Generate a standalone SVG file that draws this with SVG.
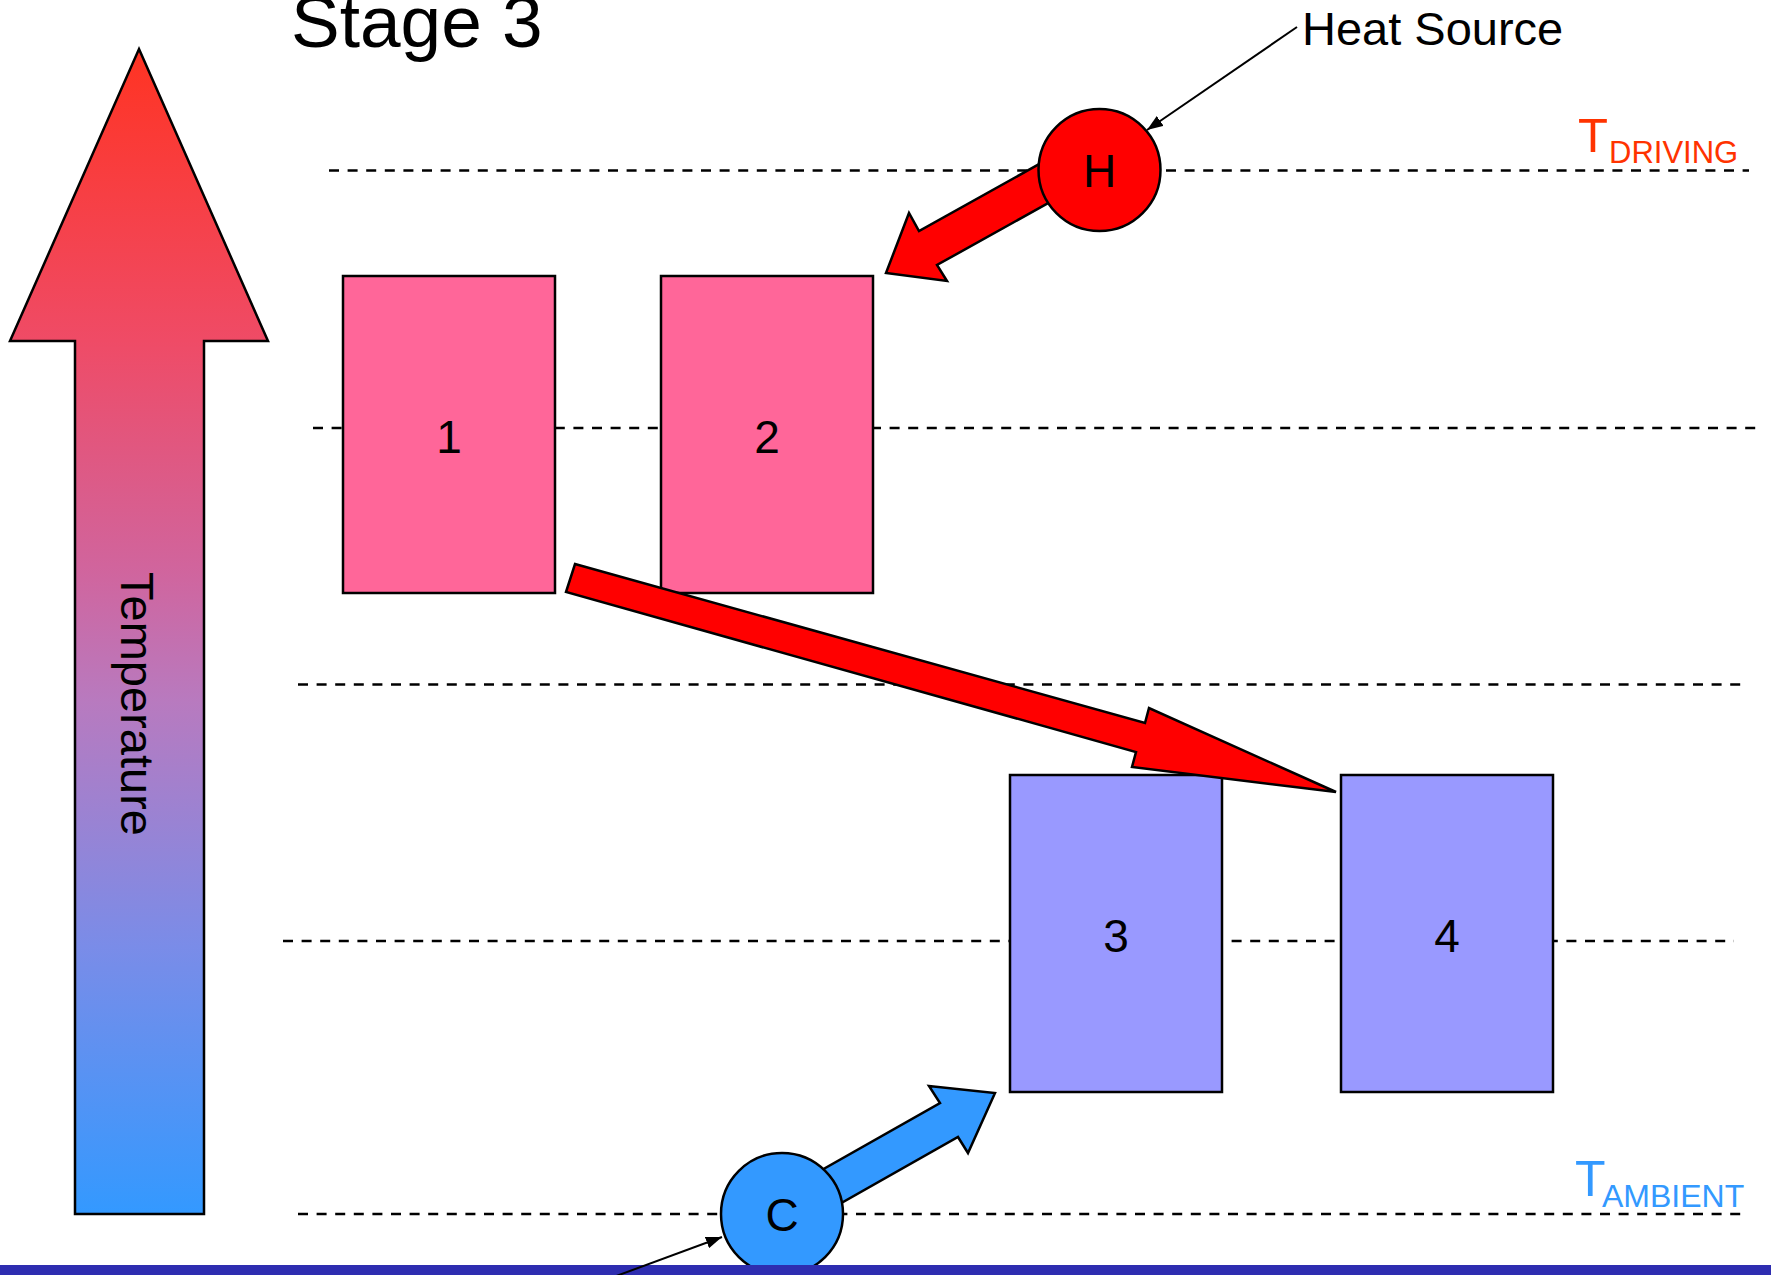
<svg xmlns="http://www.w3.org/2000/svg" width="1771" height="1275" viewBox="0 0 1771 1275">
  <style>
    .lvl { stroke: #000; stroke-width: 2.5; stroke-dasharray: 10 8.6; fill: none; }
    .hot { fill: #FF6699; stroke: #000; stroke-width: 2.5; }
    .cold { fill: #9999FF; stroke: #000; stroke-width: 2.5; }
    .flow { stroke: #000; stroke-width: 2.5; stroke-linejoin: miter; }
    .lead { stroke: #000; stroke-width: 2; fill: none; }
    .txt { font-family: "Liberation Sans", Arial, sans-serif; fill: #000; }
    .num { font-size: 46px; text-anchor: middle; }
  </style>
  <defs>
    <linearGradient id="tempGrad" gradientUnits="userSpaceOnUse" x1="0" y1="49" x2="0" y2="1214">
      <stop offset="0" stop-color="#FF3322"/>
      <stop offset="0.25" stop-color="#EF4B66"/>
      <stop offset="0.45" stop-color="#D0659E"/>
      <stop offset="0.56" stop-color="#B87ABF"/>
      <stop offset="0.77" stop-color="#7A8CE8"/>
      <stop offset="1" stop-color="#3399FF"/>
    </linearGradient>
    <marker id="tip" viewBox="0 0 16 12" refX="16" refY="6" markerWidth="16" markerHeight="12" markerUnits="userSpaceOnUse" orient="auto">
      <path d="M0,0 L16,6 L0,12 z" fill="#000"/>
    </marker>
  </defs>

  <rect width="1771" height="1275" fill="#fff"/>

  <!-- temperature levels -->
  <g id="levels">
    <line class="lvl" x1="329" y1="170.5" x2="1749" y2="170.5"/>
    <line class="lvl" x1="313" y1="428" x2="1762" y2="428"/>
    <line class="lvl" x1="298" y1="684.5" x2="1748" y2="684.5"/>
    <line class="lvl" x1="283" y1="941" x2="1734" y2="941"/>
    <line class="lvl" x1="298" y1="1214" x2="1748" y2="1214"/>
  </g>

  <!-- temperature scale arrow -->
  <g id="temperature-axis">
    <polygon points="139,49 268,341 204,341 204,1214 75,1214 75,341 10,341" fill="url(#tempGrad)" stroke="#000" stroke-width="2.5"/>
    <text class="txt" font-size="47" transform="translate(121,704) rotate(90)" text-anchor="middle">Temperature</text>
  </g>

  <g id="title">
    <text class="txt" x="291" y="47" font-size="73">Stage 3</text>
  </g>

  <!-- stages -->
  <g id="box1">
    <rect class="hot" x="343" y="276" width="212" height="317"/>
    <text class="txt num" x="449" y="453">1</text>
  </g>
  <g id="box2">
    <rect class="hot" x="661" y="276" width="212" height="317"/>
    <text class="txt num" x="767" y="453">2</text>
  </g>
  <g id="box3">
    <rect class="cold" x="1010" y="775" width="212" height="317"/>
    <text class="txt num" x="1116" y="952">3</text>
  </g>
  <g id="box4">
    <rect class="cold" x="1341" y="775" width="212" height="317"/>
    <text class="txt num" x="1447" y="952">4</text>
  </g>

  <!-- heat flow arrows -->
  <g id="connectors">
    <polygon class="flow" fill="#FF0000" points="886,273 909,213 919,231 1059,153 1077,187 937,265 947,281"/>
    <polygon class="flow" fill="#FF0000" points="575,564 1145,723 1149,708 1336,792 1132,767 1136,752 566,592"/>
    <polygon class="flow" fill="#3399FF" points="995,1093 968,1153 958,1137 806,1223 790,1188 940,1103 929,1086"/>
    <line class="lead" x1="1297" y1="27" x2="1147" y2="130" marker-end="url(#tip)"/>
  </g>

  <!-- heat source and sink -->
  <g id="heat-source">
    <circle cx="1099.5" cy="170" r="61" fill="#FF0000" stroke="#000" stroke-width="2.5"/>
    <text class="txt num" x="1099.5" y="187">H</text>
  </g>
  <g id="cold-sink">
    <circle cx="782" cy="1214" r="61" fill="#3399FF" stroke="#000" stroke-width="2.5"/>
    <text class="txt num" x="782" y="1231">C</text>
  </g>

  <g id="labels">
    <text class="txt" x="1302" y="45" font-size="47">Heat Source</text>
    <text class="txt" x="1578" y="152" font-size="49" style="fill:#FF3300">T</text>
    <text class="txt" x="1609" y="163" font-size="31" style="fill:#FF3300">DRIVING</text>
    <text class="txt" x="1575" y="1196" font-size="50" style="fill:#3399FF">T</text>
    <text class="txt" x="1602" y="1207" font-size="32" style="fill:#3399FF">AMBIENT</text>
  </g>

  <rect id="footer-bar" x="0" y="1265" width="1771" height="10" fill="#2E2DB0"/>

  <!-- leader to the sink, drawn over the footer bar -->
  <g id="sink-leader">
    <line class="lead" x1="600" y1="1282" x2="722" y2="1237" marker-end="url(#tip)"/>
  </g>
</svg>
